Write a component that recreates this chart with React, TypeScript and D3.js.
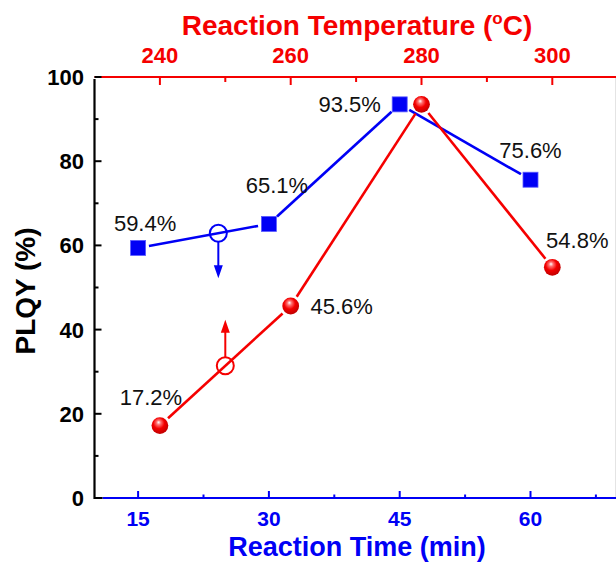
import React from 'react';
import * as d3 from 'd3';

// PLQY versus reaction time (bottom axis) and reaction temperature (top axis)
const timeMin = [15, 30, 45, 60];
const plqyByTime = [59.4, 65.1, 93.5, 75.6];
const timeLabels = ['59.4%', '65.1%', '93.5%', '75.6%'];

const tempC = [240, 260, 280, 300];
const plqyByTemp = [17.2, 45.6, 93.5, 54.8];
const tempLabels = ['17.2%', '45.6%', '', '54.8%'];

const timeTicks = [15, 30, 45, 60];
const timeMinorTicks = [22.5, 37.5, 52.5, 67.5];
const tempTicks = [240, 260, 280, 300];
const tempMinorTicks = [250, 270, 290];
const plqyTicks = [0, 20, 40, 60, 80, 100];
const plqyMinorTicks = [10, 30, 50, 70, 90];

// open-circle markers telling which axis each series belongs to
const timeIndicator = { x: 24.2, y: 62.9 };
const tempIndicator = { x: 250, y: 31.4 };

// label placement relative to its point, in px
const timeLabelOffsets: [number, number][] = [[7, -25], [8, -39], [-50, 0], [0, -30]];
const tempLabelOffsets: [number, number][] = [[-9, -29], [51, 0], [0, 0], [25, -27]];

const W = 616;
const H = 563;
const left = 94.5;
const right = 617.7;
const top = 77;
const bottom = 498;

const BLUE = '#0000f5';
const RED = '#f50000';
const FONT = '"Liberation Sans", Arial, Helvetica, sans-serif';

const xTime = d3.scaleLinear().domain([10, 70]).range([left, right]);
const xTemp = d3.scaleLinear().domain([230, 310]).range([left, right]);
const y = d3.scaleLinear().domain([0, 100]).range([bottom, top]);

function shortenedSegments(pts: [number, number][], gap: number) {
  const segs: [number, number, number, number][] = [];
  for (let i = 0; i < pts.length - 1; i++) {
    const [x1, y1] = pts[i];
    const [x2, y2] = pts[i + 1];
    const len = Math.hypot(x2 - x1, y2 - y1);
    const ux = (x2 - x1) / len;
    const uy = (y2 - y1) / len;
    segs.push([x1 + ux * gap, y1 + uy * gap, x2 - ux * gap, y2 - uy * gap]);
  }
  return segs;
}

export default function App() {
  const bluePts: [number, number][] = timeMin.map((t, i) => [xTime(t), y(plqyByTime[i])]);
  const redPts: [number, number][] = tempC.map((t, i) => [xTemp(t), y(plqyByTemp[i])]);
  const blueSegs = shortenedSegments(bluePts, 11);
  const redSegs = shortenedSegments(redPts, 11);

  const bi = { x: xTime(timeIndicator.x), y: y(timeIndicator.y) };
  const ri = { x: xTemp(tempIndicator.x), y: y(tempIndicator.y) };
  const cr = 8.5;

  return (
    <svg
      width={W}
      height={H}
      viewBox={`0 0 ${W} ${H}`}
      style={{ position: 'absolute', left: 0, top: 0, background: '#fff' }}
      fontFamily={FONT}
    >
      <defs>
        <radialGradient id="sphere" cx="45%" cy="40%" r="60%" fx="42%" fy="30%">
          <stop offset="0%" stopColor="#ffffff" />
          <stop offset="22%" stopColor="#ff7070" />
          <stop offset="55%" stopColor="#f40000" />
          <stop offset="100%" stopColor="#c00000" />
        </radialGradient>
      </defs>

      {/* faint right frame edge */}
      <line x1={615.5} x2={615.5} y1={top} y2={bottom} stroke="#e4e4e4" strokeWidth={1} />

      {/* top axis: temperature */}
      <line x1={left} x2={W} y1={top} y2={top} stroke={RED} strokeWidth={2.2} />
      {tempTicks.map((t) => (
        <line key={'tt' + t} x1={xTemp(t)} x2={xTemp(t)} y1={top} y2={top + 8} stroke={RED} strokeWidth={2} />
      ))}
      {tempMinorTicks.map((t) => (
        <line key={'tm' + t} x1={xTemp(t)} x2={xTemp(t)} y1={top} y2={top + 5} stroke={RED} strokeWidth={2} />
      ))}
      {tempTicks.map((t) => (
        <text key={'tl' + t} x={xTemp(t)} y={63} textAnchor="middle" fontSize={22} fontWeight="bold" fill={RED}>
          {t}
        </text>
      ))}
      <text x={357} y={35} textAnchor="middle" fontSize={28} fontWeight="bold" fill={RED}>
        Reaction Temperature (
        <tspan fontSize={17} dy={-11}>o</tspan>
        <tspan dy={11}>C)</tspan>
      </text>

      {/* bottom axis: time */}
      <line x1={left + 8} x2={W} y1={bottom} y2={bottom} stroke={BLUE} strokeWidth={2.2} />
      {timeTicks.map((t) => (
        <line key={'bt' + t} x1={xTime(t)} x2={xTime(t)} y1={bottom} y2={bottom - 7} stroke={BLUE} strokeWidth={2} />
      ))}
      {timeMinorTicks.map((t) => (
        <line key={'bm' + t} x1={xTime(t)} x2={xTime(t)} y1={bottom} y2={bottom - 3.5} stroke={BLUE} strokeWidth={2} />
      ))}
      {timeTicks.map((t) => (
        <text key={'bl' + t} x={xTime(t)} y={526} textAnchor="middle" fontSize={21} fontWeight="bold" fill={BLUE}>
          {t}
        </text>
      ))}
      <text x={357} y={556} textAnchor="middle" fontSize={27} fontWeight="bold" fill={BLUE}>
        Reaction Time (min)
      </text>

      {/* left axis: PLQY */}
      <path d={`M${left},${top + 2}V${bottom}H${left + 8}`} fill="none" stroke="#000" strokeWidth={2.2} />
      {plqyTicks.map((v) => (
        <line key={'yt' + v} x1={left} x2={left + 7} y1={y(v)} y2={y(v)} stroke="#000" strokeWidth={2} />
      ))}
      {plqyMinorTicks.map((v) => (
        <line key={'ym' + v} x1={left} x2={left + 4} y1={y(v)} y2={y(v)} stroke="#000" strokeWidth={2} />
      ))}
      {plqyTicks.map((v) => (
        <text key={'yl' + v} x={84} y={y(v)} dy="0.36em" textAnchor="end" fontSize={22} fontWeight="bold" fill="#000">
          {v}
        </text>
      ))}
      <text
        transform={`translate(35, 291) rotate(-90)`}
        textAnchor="middle"
        fontSize={28}
        fontWeight="bold"
        fill="#000"
      >
        PLQY (%)
      </text>

      {/* series lines */}
      {blueSegs.map((s, i) => (
        <line key={'bs' + i} x1={s[0]} y1={s[1]} x2={s[2]} y2={s[3]} stroke={BLUE} strokeWidth={2.6} />
      ))}
      {redSegs.map((s, i) => (
        <line key={'rs' + i} x1={s[0]} y1={s[1]} x2={s[2]} y2={s[3]} stroke={RED} strokeWidth={2.6} />
      ))}

      {/* axis indicators */}
      <circle cx={bi.x} cy={bi.y} r={cr} fill="none" stroke={BLUE} strokeWidth={2} />
      <line x1={bi.x} x2={bi.x} y1={bi.y + cr} y2={bi.y + 34} stroke={BLUE} strokeWidth={2} />
      <path d={`M${bi.x - 4.5},${bi.y + 32}L${bi.x + 4.5},${bi.y + 32}L${bi.x},${bi.y + 45}Z`} fill={BLUE} />
      <circle cx={ri.x} cy={ri.y} r={cr} fill="none" stroke={RED} strokeWidth={2} />
      <line x1={ri.x} x2={ri.x} y1={ri.y - cr} y2={ri.y - 35} stroke={RED} strokeWidth={2} />
      <path d={`M${ri.x - 4.5},${ri.y - 33}L${ri.x + 4.5},${ri.y - 33}L${ri.x},${ri.y - 46}Z`} fill={RED} />

      {/* markers */}
      {bluePts.map(([px, py], i) => (
        <rect key={'sq' + i} x={px - 7.5} y={py - 7.5} width={15} height={15} fill={BLUE} stroke="#5a5aff" strokeWidth={0.8} />
      ))}
      {redPts.map(([px, py], i) => (
        <circle key={'sp' + i} cx={px} cy={py} r={8.4} fill="url(#sphere)" />
      ))}

      {/* value labels */}
      {bluePts.map(([px, py], i) => (
        <text
          key={'bvl' + i}
          x={px + timeLabelOffsets[i][0]}
          y={py + timeLabelOffsets[i][1]}
          dy="0.36em"
          textAnchor="middle"
          fontSize={22}
          fill="#111"
        >
          {timeLabels[i]}
        </text>
      ))}
      {redPts.map(([px, py], i) =>
        tempLabels[i] ? (
          <text
            key={'rvl' + i}
            x={px + tempLabelOffsets[i][0]}
            y={py + tempLabelOffsets[i][1]}
            dy="0.36em"
            textAnchor="middle"
            fontSize={22}
            fill="#111"
          >
            {tempLabels[i]}
          </text>
        ) : null
      )}
    </svg>
  );
}
